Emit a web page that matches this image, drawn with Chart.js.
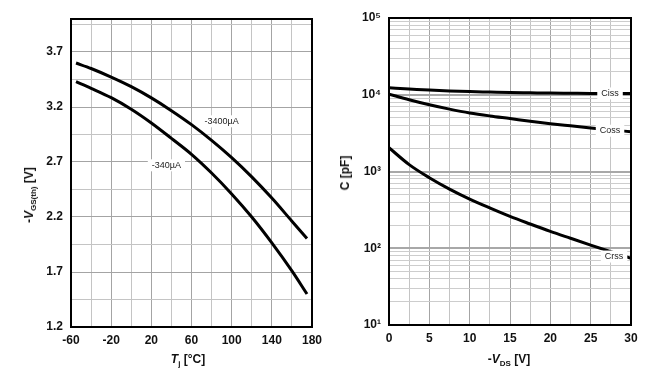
<!DOCTYPE html>
<html lang="en">
<head>
<meta charset="UTF-8">
<title>Gate threshold voltage and capacitances</title>
<script src="https://cdn.jsdelivr.net/npm/chart.js"></script>
<style>
    html, body { margin: 0; padding: 0; background: #fff; }
    body { width: 660px; height: 382px; position: relative; overflow: hidden;
           font-family: Arial, "Liberation Sans", sans-serif; }
    .box { position: absolute; top: 0; width: 330px; height: 382px; }
    #leftBox { left: 0; }
    #rightBox { left: 330px; }
    .title { position: absolute; font-weight: bold; font-size: 12px; color: #111; white-space: nowrap; }
    .title sub { font-size: 8px; vertical-align: -3px; }
    .ytitle { transform: translate(-50%, -50%) rotate(-90deg); }
    .xtitle { transform: translate(-50%, -50%); }
</style>
</head>
<body>
<div class="box" id="leftBox">
    <canvas id="vthChart" width="330" height="382"></canvas>
    <div class="title ytitle" style="left:30px; top:195px;">-<i>V</i><sub>GS(th)</sub> [V]</div>
    <div class="title xtitle" style="left:188px; top:360px;"><i>T</i><sub>j</sub> [°C]</div>
</div>
<div class="box" id="rightBox">
    <canvas id="capChart" width="330" height="382"></canvas>
    <div class="title ytitle" style="left:15px; top:173px;">C [pF]</div>
    <div class="title xtitle" style="left:179px; top:360px;">-<i>V</i><sub>DS</sub> [V]</div>
</div>

<script>
// left chart: -VGS(th) vs Tj
const tempC = [-55, -40, -20, 0, 20, 40, 60, 80, 100, 120, 140, 160, 175];
const vth3400 = [3.60, 3.55, 3.472, 3.385, 3.283, 3.167, 3.04, 2.897, 2.74, 2.565, 2.372, 2.162, 2.005];
const vth340 = [3.43, 3.37, 3.285, 3.18, 3.055, 2.915, 2.77, 2.60, 2.41, 2.20, 1.965, 1.71, 1.50];
const vthLabels = ["-3400µA", "-340µA"];
const vthLabelX = [90, 35];
const vthLabelY = [3.07, 2.67];

// right chart: C vs -VDS
const vds = [0, 2.5, 5, 7.5, 10, 12.5, 15, 17.5, 20, 22.5, 25, 27.5, 30];
const ciss = [12300, 11900, 11500, 11200, 11000, 10850, 10700, 10600, 10500, 10450, 10400, 10400, 10400];
const coss = [10200, 8600, 7400, 6500, 5800, 5300, 4900, 4520, 4200, 3940, 3700, 3480, 3300];
const crss = [2040, 1230, 830, 590, 437, 335, 260, 207, 166, 135, 110, 90, 74];
const capLabels = ["Ciss", "Coss", "Crss"];
const capLabelX = [27.4, 27.4, 27.9];
const capLabelY = [10400, 3400, 78];

const tickFont = { family: "Arial, 'Liberation Sans', sans-serif", size: 12, weight: "bold" };

const frame = {
    id: "frame",
    afterDraw(chart) {
        const a = chart.chartArea, ctx = chart.ctx;
        ctx.save();
        ctx.strokeStyle = "#000";
        ctx.lineWidth = 2;
        ctx.strokeRect(a.left, a.top, a.right - a.left, a.bottom - a.top);
        ctx.restore();
    }
};

function curveLabels(texts, xs, ys) {
    return {
        id: "curveLabels",
        afterDatasetsDraw(chart) {
            const ctx = chart.ctx;
            const sx = chart.scales.x, sy = chart.scales.y;
            ctx.save();
            ctx.font = "9px Arial, 'Liberation Sans', sans-serif";
            ctx.textAlign = "center";
            ctx.textBaseline = "middle";
            texts.forEach((t, i) => {
                const px = sx.getPixelForValue(xs[i]);
                const py = sy.getPixelForValue(ys[i]);
                const w = ctx.measureText(t).width + 8;
                ctx.fillStyle = "#fff";
                ctx.fillRect(px - w / 2, py - 6, w, 12);
                ctx.fillStyle = "#222";
                ctx.fillText(t, px, py);
            });
            ctx.restore();
        }
    };
}

function line(xs, ys) {
    return {
        data: xs.map((x, i) => ({ x: x, y: ys[i] })),
        borderColor: "#000",
        borderWidth: 3,
        pointRadius: 0,
        fill: false,
        cubicInterpolationMode: "monotone"
    };
}

new Chart(document.getElementById("vthChart"), {
    type: "line",
    data: { datasets: [line(tempC, vth3400), line(tempC, vth340)] },
    options: {
        responsive: false,
        animation: false,
        layout: { padding: { left: 0, right: 18, top: 19, bottom: 25 } },
        plugins: { legend: { display: false }, tooltip: { enabled: false } },
        scales: {
            x: {
                type: "linear", min: -60, max: 180,
                afterBuildTicks: s => { s.ticks = []; for (let v = -60; v <= 180; v += 20) s.ticks.push({ value: v }); },
                afterFit: s => { s.height = 30; },
                ticks: {
                    font: tickFont, color: "#111", padding: 6, maxRotation: 0, autoSkip: false,
                    callback: v => ((v + 60) % 40 === 0 ? String(v) : "")
                },
                grid: {
                    drawTicks: false,
                    color: c => ((c.tick.value + 60) % 40 === 0 ? "#a4a4a4" : "#c4c4c4")
                },
                border: { display: false }
            },
            y: {
                type: "linear", min: 1.2, max: 4.0,
                afterBuildTicks: s => { s.ticks = []; for (let i = 0; i < 12; i++) s.ticks.push({ value: 1.2 + 0.25 * i }); },
                afterFit: s => { s.width = 71; },
                ticks: {
                    font: tickFont, color: "#111", padding: 8, autoSkip: false,
                    callback: (v, i) => (i % 2 === 0 ? v.toFixed(1) : "")
                },
                grid: {
                    drawTicks: false,
                    color: c => (c.index % 2 === 0 ? "#a4a4a4" : "#c4c4c4")
                },
                border: { display: false }
            }
        }
    },
    plugins: [curveLabels(vthLabels, vthLabelX, vthLabelY), frame]
});

const sup = { 1: "¹", 2: "²", 3: "³", 4: "⁴", 5: "⁵" };

new Chart(document.getElementById("capChart"), {
    type: "line",
    data: { datasets: [line(vds, ciss), line(vds, coss), line(vds, crss)] },
    options: {
        responsive: false,
        animation: false,
        layout: { padding: { left: 0, right: 29, top: 18, bottom: 27 } },
        plugins: { legend: { display: false }, tooltip: { enabled: false } },
        scales: {
            x: {
                type: "linear", min: 0, max: 30,
                afterBuildTicks: s => { s.ticks = []; for (let v = 0; v <= 30; v += 2.5) s.ticks.push({ value: v }); },
                afterFit: s => { s.height = 30; },
                ticks: {
                    font: tickFont, color: "#111", padding: 6, maxRotation: 0, autoSkip: false,
                    callback: v => (v % 5 === 0 ? String(v) : "")
                },
                grid: {
                    drawTicks: false,
                    color: c => (c.tick.value % 5 === 0 ? "#a4a4a4" : "#c4c4c4")
                },
                border: { display: false }
            },
            y: {
                type: "logarithmic", min: 10, max: 100000,
                afterBuildTicks: s => {
                    s.ticks = [];
                    for (let d = 1; d <= 4; d++) for (let k = 1; k <= 9; k++) s.ticks.push({ value: k * Math.pow(10, d) });
                    s.ticks.push({ value: 100000 });
                },
                afterFit: s => { s.width = 59; },
                ticks: {
                    font: tickFont, color: "#111", padding: 8, autoSkip: false,
                    callback: v => {
                        const e = Math.round(Math.log10(v));
                        return Math.abs(v - Math.pow(10, e)) < 1e-6 ? "10" + sup[e] : "";
                    }
                },
                grid: {
                    drawTicks: false,
                    color: c => (c.index % 9 === 0 ? "#a8a8a8" : "#cdcdcd"),
                    lineWidth: c => (c.index % 9 === 0 ? 2 : 1)
                },
                border: { display: false }
            }
        }
    },
    plugins: [curveLabels(capLabels, capLabelX, capLabelY), frame]
});
</script>
</body>
</html>
